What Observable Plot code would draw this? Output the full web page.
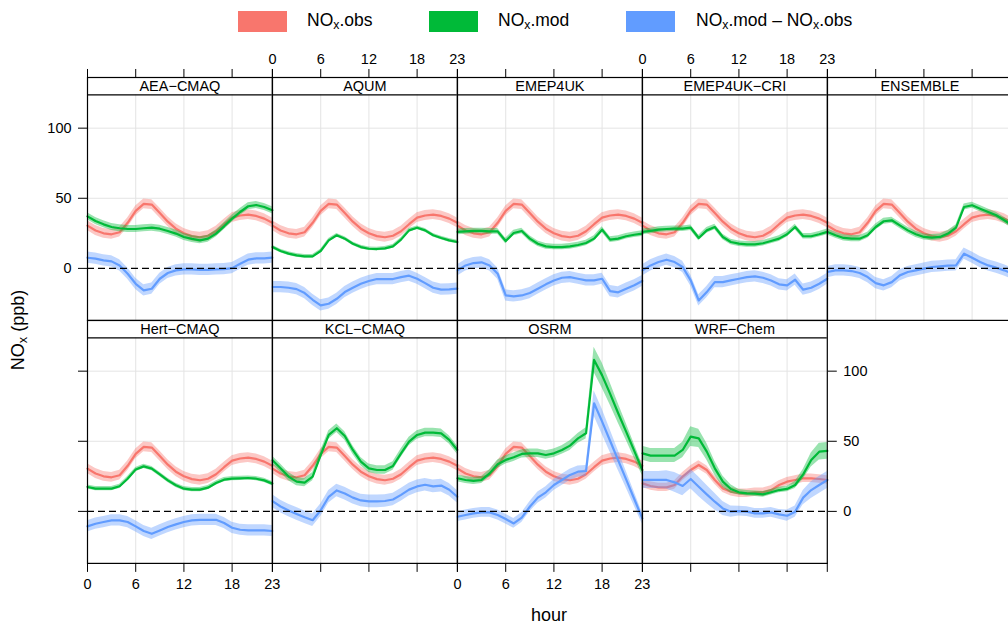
<!DOCTYPE html>
<html><head><meta charset="utf-8">
<script src="https://cdn.jsdelivr.net/npm/d3@7"></script>
<script src="https://cdn.jsdelivr.net/npm/@observablehq/plot@0.6"></script>
<style>
body{margin:0;background:#fff;}
#chart{position:relative;width:1008px;height:627px;overflow:hidden;font-family:"Liberation Sans",Arial,Helvetica,sans-serif;color:#000;background:#fff;}
#chart svg{position:absolute;max-width:none;overflow:visible;}
.lab{position:absolute;white-space:nowrap;}
.lab sub{font-size:0.7em;vertical-align:-0.25em;line-height:0;}
.sw{position:absolute;width:49px;height:21px;}
</style></head><body><div id="chart"></div>
<script>
// ---------- data ----------
const hours = [0,1,2,3,4,5,6,7,8,9,10,11,12,13,14,15,16,17,18,19,20,21,22,23];
const xTicks = [0, 6, 12, 18, 23];
const xGrid = [6, 12, 18];
const yTicks = [0, 50, 100];
const yGrid = [50, 100];
const yDomain = [-37.1, 123.8];

const models = ["AEA−CMAQ","AQUM","EMEP4UK","EMEP4UK−CRI","ENSEMBLE","Hert−CMAQ","KCL−CMAQ","OSRM","WRF−Chem"];
const seriesNames = ["NOx.obs", "NOx.mod", "NOx.mod – NOx.obs"];
const seriesColors = ["#F8766D", "#00BA38", "#619CFF"];

const obsMain = [30.5, 27, 25, 24.3, 25.8, 32.5, 41, 46, 45.5, 39.5, 33.3, 28.3, 25, 23, 22.2, 23.3, 26.5, 31.5, 36.2, 37.7, 38.3, 37.4, 35.5, 32.5];
const obsWRF  = [20, 18.1, 17.1, 17.1, 18.8, 24.8, 29.5, 33.1, 29.5, 22.4, 16.4, 14, 12.9, 12.9, 13.6, 13.6, 15.2, 18.8, 21.2, 22.4, 23.6, 23.6, 23.1, 22.4];

const modAEA  = [37.1, 33.8, 31.4, 29.5, 28.6, 28.1, 28.1, 28.6, 29, 28.3, 26.7, 24.8, 22.4, 21, 20, 21.2, 24.8, 30, 35.5, 40.2, 44.3, 45.2, 43.8, 41.4];
const difAEA  = [7.6, 6.9, 5.7, 5, 2.1, -3.8, -11, -15.7, -14.5, -7.4, -3.3, -1.4, -0.7, -0.7, -1, -1, -0.7, -0.5, 0.2, 3.3, 6.2, 7.1, 7.1, 7.6];
const modAQUM = [15.2, 12.4, 10.5, 9.3, 8.6, 8.6, 12.4, 20, 23.6, 21.2, 17.6, 15.2, 14, 13.8, 14.3, 15.7, 20.5, 27.1, 29, 27.1, 23.6, 21.7, 20, 18.8];
const difAQUM = [-13.3, -13.3, -13.8, -14.8, -17.6, -22.4, -26.4, -25.2, -21.7, -16.9, -13.8, -11, -9, -7.6, -7.6, -7.6, -6.2, -5.2, -7.4, -10.5, -13.8, -15.2, -15, -14.5];
const modEMEP = [26, 26.4, 26.7, 26.7, 26.4, 26.4, 19.5, 25.2, 26.7, 21.2, 17.6, 15.7, 15.2, 15.2, 15.7, 16.7, 18.1, 21.2, 27.6, 20.5, 21.2, 22.9, 24, 24.8];
const difEMEP = [-1.4, 2.1, 3.8, 4.3, 2.1, -3.8, -19.3, -20, -19.3, -17.6, -14.5, -11.4, -8.6, -6.7, -6.2, -7.4, -8.6, -8.6, -7.4, -16.2, -17.1, -14.5, -12.1, -9];
const modCRI  = [26, 26.7, 27.6, 28.1, 28.3, 28.3, 29, 21.7, 27.1, 29.5, 22.4, 18.8, 17.6, 17.1, 17.1, 17.9, 19.5, 21.2, 24.3, 29.5, 22.9, 22.9, 24.3, 26];
const difCRI  = [-1.4, 2.1, 4.5, 6.2, 4.5, 1, -8.6, -22.9, -16.9, -9.8, -9.8, -8.6, -7.4, -6.2, -5.7, -6.7, -8.6, -11.4, -12.1, -8.1, -15.2, -13.8, -11, -7.4];
const modENS  = [26, 23.6, 21.7, 21.2, 21.2, 23.6, 29.5, 33.6, 34.3, 30.7, 27.1, 24.3, 22.4, 21.9, 22.4, 24.8, 29, 43.8, 45, 42.6, 40.2, 37.9, 34.3, 30.7];
const difENS  = [-2.6, -1.4, -1.4, -1.9, -3.3, -6.2, -10.5, -12.1, -9.8, -5, -2.6, -1.4, -0.2, 1, 1.4, 1.9, 2.1, 10.5, 7.6, 4.5, 2.1, 0.5, -1.4, -3.8];
const modHERT = [17.4, 16.2, 16.2, 16.2, 17.9, 23.3, 29.8, 32.1, 30.5, 26.4, 22.1, 18.6, 16.2, 15.5, 15.5, 16.9, 20.2, 22.6, 23.3, 23.6, 23.8, 23.3, 22.1, 19.8];
const difHERT = [-10.7, -8.8, -7.6, -6.4, -6.4, -7.6, -10.7, -14, -16, -13.6, -11.2, -9.3, -7.6, -6.4, -6, -6, -6, -8.3, -11.7, -13.1, -13.6, -13.6, -13.6, -14];
const modKCL  = [36.4, 30.7, 24.8, 21.2, 20.5, 24.8, 40.2, 54.5, 59.3, 53.8, 43.8, 35.5, 30.7, 29.5, 29.5, 32.4, 41.4, 49.8, 54.5, 56.2, 56.2, 55.7, 51, 43.8];
const difKCL  = [7.3, 3.5, 0.6, -1.8, -4.2, -6.3, 0.8, 10.4, 14.9, 12.7, 9.8, 7.8, 7.1, 7.1, 7.4, 8.5, 11.8, 15.5, 17.8, 19, 17.8, 18.4, 15.4, 10.4];
const modOSRM = [23.6, 22.4, 21.7, 22.4, 27.1, 33.6, 36.7, 38.6, 41, 41.4, 41.4, 40.2, 41.4, 43.8, 46.9, 52.1, 55.7, 108, 97, 83.8, 70, 56.7, 43.1, 29.5];
const difOSRM = [-3.8, -2.6, -1.4, -0.7, -0.7, -2.6, -5.5, -8.6, -4.5, 3.3, 9.8, 13.6, 18.8, 22.4, 26, 28.3, 28.8, 77.1, 64, 50.2, 36.4, 22.6, 8.8, -5];
const modWRF  = [41.4, 39.8, 39.8, 39.8, 39.8, 43.8, 53.3, 52.1, 42.6, 30.7, 21.2, 16, 13.6, 12.9, 12.6, 12.1, 13.6, 15.2, 16, 18.8, 26.4, 36.7, 42.6, 43.1];
const difWRF  = [22.4, 22.4, 22.4, 22.4, 20.7, 18.1, 23.1, 17.6, 12.1, 6.9, 2.1, -0.2, 0.2, -0.2, -1.4, -1.4, -0.7, -2.1, -3.1, -0.2, 9.8, 15.2, 18.8, 22.4];

// half-widths of the shaded uncertainty bands (ppb)
const hwObs = [3.5, 3.5, 3.5, 3.5, 3.5, 3.5, 3.5, 3.5, 3];
const hwModOSRM = [2.5, 2.5, 2.5, 2.5, 2.5, 3, 3, 3, 3, 3, 3, 3, 3, 3, 3.5, 3.5, 4, 9, 9, 8, 7, 6, 5, 4];
const hwModWRF  = [5, 5, 5, 5, 5, 5.5, 7, 6.5, 6, 5, 4, 3, 2, 2, 2, 2, 2, 2, 2, 2.5, 3.5, 5, 6, 6];
const hwDifOSRM = [3.5, 3.5, 3.5, 3.5, 3.5, 3.5, 3.5, 3.5, 3.5, 3.5, 4, 4, 4, 4, 4, 4, 4, 9, 9, 8, 7, 6, 5, 4];
const hwDifWRF  = [6, 6, 6, 6.5, 7, 7, 7, 7, 6.5, 6, 5, 4, 3.5, 3.5, 3.5, 3.5, 3.5, 3.5, 4, 4, 5, 6, 6, 6];
const hwMod = [2.5, 1.3, 2, 2, 2.2, 1.5, 3, hwModOSRM, hwModWRF];
const hwDif = [4, 4, 4, 4, 4, 4, 4.5, hwDifOSRM, hwDifWRF];

const obsByModel = [obsMain, obsMain, obsMain, obsMain, obsMain, obsMain, obsMain, obsMain, obsWRF];
const modByModel = [modAEA, modAQUM, modEMEP, modCRI, modENS, modHERT, modKCL, modOSRM, modWRF];
const difByModel = [difAEA, difAQUM, difEMEP, difCRI, difENS, difHERT, difKCL, difOSRM, difWRF];

// ---------- layout ----------
const FONT = '"Liberation Sans", Arial, Helvetica, sans-serif';
const X0 = 87.3, PW = 184.8, S = 17.3, PH = 225.6;
const rowTop = [77.2, 320];
const mL = 60, mR = 60, mT = 40, mB = 45;
const chart = document.getElementById("chart");
const hw = (h, i) => Array.isArray(h) ? h[i] : h;
const noText = () => "";

models.forEach((name, k) => {
  const row = k < 5 ? 0 : 1, col = k < 5 ? k : k - 5;
  const series = [obsByModel[k], modByModel[k], difByModel[k]];
  const halfw = [hwObs[k], hwMod[k], hwDif[k]];
  const marks = [
    Plot.gridY(yGrid, {stroke: "#e4e4e4", strokeOpacity: 1, strokeWidth: 1}),
    Plot.ruleX(xGrid, {y1: yDomain[0], y2: yDomain[1], stroke: "#e4e4e4", strokeWidth: 1})
  ];
  series.forEach((vals, s) => {
    const d = hours.map((h, i) => ({h, v: vals[i], lo: vals[i] - hw(halfw[s], i), hi: vals[i] + hw(halfw[s], i)}));
    marks.push(Plot.areaY(d, {x: "h", y1: "lo", y2: "hi", fill: seriesColors[s], fillOpacity: 0.4}));
    marks.push(Plot.line(d, {x: "h", y: "v", stroke: seriesColors[s], strokeWidth: 2.2}));
  });
  marks.push(Plot.ruleY([0], {stroke: "black", strokeWidth: 1.3, strokeDasharray: "7,4"}));
  marks.push(Plot.ruleY([yDomain[1]], {stroke: "black", strokeWidth: 1.2}));
  marks.push(Plot.frame({stroke: "black", strokeWidth: 1.2}));
  marks.push(Plot.text([name], {frameAnchor: "top", dy: S / 2 + 0.5, lineAnchor: "middle", fontSize: 14.5, fill: "black"}));

  const axOpt = {tickSize: 9, label: null, stroke: "black"};
  let hasY = false;
  if (row === 0) {
    marks.push(Plot.axisX(xTicks, {...axOpt, anchor: "top", tickPadding: 4, tickFormat: (col === 1 || col === 3) ? (d => d) : noText}));
    if (col === 0) { marks.push(Plot.axisY(yTicks, {...axOpt, anchor: "left", tickPadding: 7})); hasY = true; }
  } else {
    marks.push(Plot.axisX(xTicks, {...axOpt, anchor: "bottom", tickPadding: 6, tickFormat: (col === 0 || col === 2) ? (d => d) : noText}));
    if (col === 0) { marks.push(Plot.axisY(yTicks, {...axOpt, anchor: "left", tickPadding: 7, tickFormat: noText})); hasY = true; }
    if (col === 3) { marks.push(Plot.axisY(yTicks, {...axOpt, anchor: "right", tickPadding: 7})); hasY = true; }
  }

  const yScale = {domain: yDomain, range: [mT + S + PH, mT + S]};
  if (!hasY) yScale.axis = null;
  const svg = Plot.plot({
    width: mL + PW + mR,
    height: mT + S + PH + mB,
    marginLeft: mL, marginRight: mR, marginTop: mT, marginBottom: mB,
    x: {domain: [0, 23]},
    y: yScale,
    style: {fontFamily: FONT, fontSize: "14.5px", color: "black", background: "transparent", overflow: "visible"},
    marks
  });
  svg.style.left = (X0 + col * PW - mL) + "px";
  svg.style.top = (rowTop[row] - mT) + "px";
  chart.appendChild(svg);
});

// ---------- legend & titles ----------
const fmt = s => s.replace(/NOx/g, "NO<sub>x</sub>");
const swX = [238, 429, 626], txX = [307, 498, 696];
seriesNames.forEach((n, i) => {
  const sw = document.createElement("div");
  sw.className = "sw"; sw.style.left = swX[i] + "px"; sw.style.top = "11px"; sw.style.background = seriesColors[i];
  chart.appendChild(sw);
  const t = document.createElement("div");
  t.className = "lab"; t.style.left = txX[i] + "px"; t.style.top = "9px"; t.style.fontSize = "17.5px"; t.style.lineHeight = "22px";
  t.innerHTML = fmt(n);
  chart.appendChild(t);
});
const xt = document.createElement("div");
xt.className = "lab"; xt.textContent = "hour";
xt.style.cssText += "font-size:18px;left:549px;top:615px;transform:translate(-50%,-50%);";
chart.appendChild(xt);
const yt = document.createElement("div");
yt.className = "lab"; yt.innerHTML = fmt("NOx (ppb)");
yt.style.cssText += "font-size:18px;left:18px;top:330px;transform:translate(-50%,-50%) rotate(-90deg);";
chart.appendChild(yt);
</script></body></html>
